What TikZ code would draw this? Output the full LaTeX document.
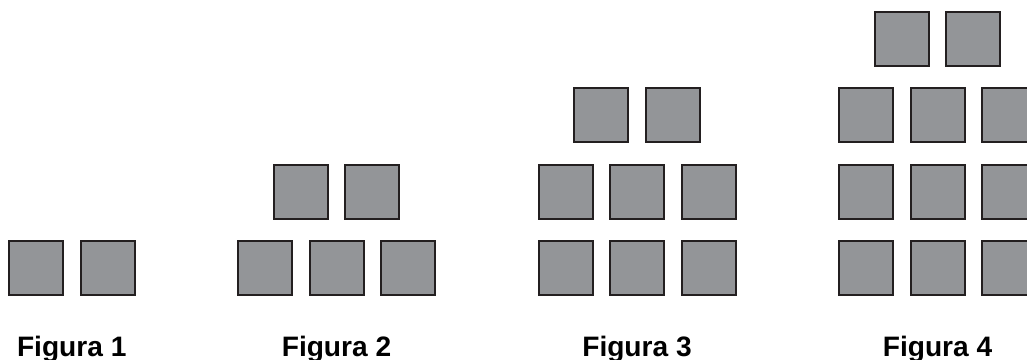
\documentclass[tikz,border=0pt]{standalone}
\usepackage{fontspec}
\setmainfont{Liberation Sans}
\usetikzlibrary{positioning,calc}
\definecolor{tilefill}{RGB}{147,149,152}
\definecolor{tileline}{RGB}{35,31,32}
\tikzset{
	tile/.style={rectangle, draw=tileline, fill=tilefill, line width=1.14pt,
		minimum size=1.08cm, inner sep=0pt},
	figlabel/.style={anchor=base, inner sep=0pt,
		font=\fontsize{16}{19}\selectfont\bfseries}
}
\begin{document}
\begin{tikzpicture}[node distance=0.41cm and 0.31cm]
	\useasboundingbox (0,0) rectangle (20.54,7.2);
	% Figura 1
	\node[tile] (f1a) at (0.72,1.83) {};
	\node[tile, right=of f1a] (f1b) {};
	\coordinate (f1mid) at ($(f1a)!0.5!(f1b)$);
	% Figura 2
	\node[tile] (f2a) at (5.30,1.83) {};
	\node[tile, right=of f2a] (f2b) {};
	\node[tile, right=of f2b] (f2c) {};
	\node[tile] (f2d) at ($(f2a)!0.5!(f2b)+(0,1.53)$) {};
	\node[tile, right=of f2d] (f2e) {};
	% Figura 3
	\node[tile] (f3a) at (11.31,1.83) {};
	\node[tile, right=of f3a] (f3b) {};
	\node[tile, right=of f3b] (f3c) {};
	\node[tile, above=of f3a] (f3d) {};
	\node[tile, right=of f3d] (f3e) {};
	\node[tile, right=of f3e] (f3f) {};
	\node[tile] (f3g) at ($(f3d)!0.5!(f3e)+(0,1.53)$) {};
	\node[tile, right=of f3g] (f3h) {};
	% Figura 4
	\node[tile] (f4a) at (17.32,1.83) {};
	\node[tile, right=of f4a] (f4b) {};
	\node[tile, right=of f4b] (f4c) {};
	\node[tile, above=of f4a] (f4d) {};
	\node[tile, right=of f4d] (f4e) {};
	\node[tile, right=of f4e] (f4f) {};
	\node[tile, above=of f4d] (f4g) {};
	\node[tile, right=of f4g] (f4h) {};
	\node[tile, right=of f4h] (f4i) {};
	\node[tile] (f4j) at ($(f4g)!0.5!(f4h)+(0,1.53)$) {};
	\node[tile, right=of f4j] (f4k) {};
	% labels
	\node[figlabel] (lab1) at (f1mid |- 0,0.06) {Figura 1};
	\node[figlabel] (lab2) at (f2b |- 0,0.06) {Figura 2};
	\node[figlabel] (lab3) at (f3b |- 0,0.06) {Figura 3};
	\node[figlabel] (lab4) at (f4b |- 0,0.06) {Figura 4};
\end{tikzpicture}
\end{document}
